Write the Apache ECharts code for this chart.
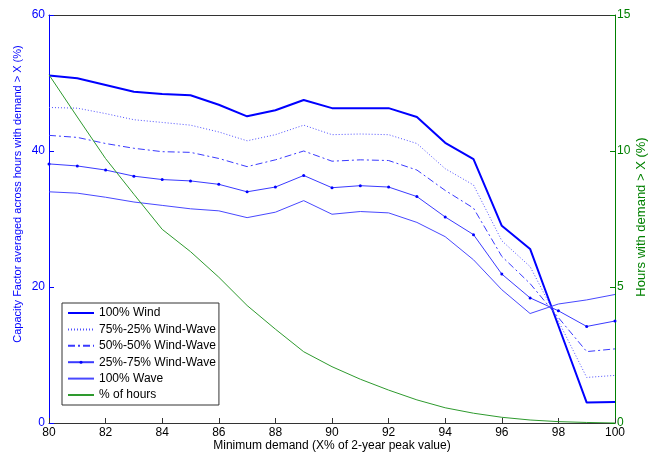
<!DOCTYPE html>
<html>
<head>
<meta charset="utf-8">
<script src="https://cdn.jsdelivr.net/npm/echarts@6/dist/echarts.min.js"></script>
<style>
html,body{margin:0;padding:0;background:#fff;}
#chart{width:663px;height:455px;}
</style>
</head>
<body>
<div id="chart"></div>
<script>
// ---- data ----
const demandX = [80,81,82,83,84,85,86,87,88,89,90,91,92,93,94,95,96,97,98,99,100];
const wind100   = [51.1,50.7,49.7,48.7,48.4,48.2,46.8,45.1,46.0,47.5,46.3,46.3,46.3,45.0,41.2,38.8,29.0,25.6,14.3,3.0,3.1];
const wind75    = [46.4,46.3,45.5,44.6,44.2,43.8,42.8,41.5,42.4,43.8,42.4,42.5,42.4,41.1,37.4,35.0,26.8,23.0,15.0,6.7,7.0];
const wind50    = [42.3,42.0,41.1,40.4,39.9,39.8,38.9,37.7,38.7,40.0,38.5,38.7,38.6,37.2,34.2,31.6,24.5,20.5,15.5,10.5,10.9];
const wind25    = [38.1,37.8,37.2,36.3,35.8,35.6,35.1,34.0,34.7,36.4,34.6,34.9,34.7,33.3,30.3,27.7,21.9,18.4,16.5,14.2,15.0];
const wave100   = [34.0,33.8,33.2,32.5,32.0,31.5,31.2,30.2,31.0,32.7,30.7,31.1,30.9,29.5,27.4,24.0,19.6,16.1,17.5,18.1,18.9];
const pctHours  = [12.8,11.25,9.72,8.41,7.12,6.3,5.36,4.32,3.45,2.62,2.07,1.61,1.21,0.85,0.56,0.36,0.21,0.11,0.05,0.02,0.0];
const xTicks = {min:80, max:100, interval:2};
const leftTicks = {min:0, max:60, interval:20};
const rightTicks = {min:0, max:15, interval:5};
const seriesNames = ['100% Wind','75%-25% Wind-Wave','50%-50% Wind-Wave','25%-75% Wind-Wave','100% Wave','% of hours'];

const pair = arr => demandX.map((x,i)=>[x,arr[i]]);
const FONT = 'Liberation Sans, Arial, sans-serif';
const BLUE = '#0000ff';
const GREEN = '#008000';

const legendData = seriesNames.map((n,i)=> i===3
  ? {name:n}
  : {name:n, itemStyle:{opacity:0}});

const chart = echarts.init(document.getElementById('chart'), null, {renderer:'canvas'});
chart.setOption({
  animation:false,
  backgroundColor:'#ffffff',
  textStyle:{fontFamily:FONT},
  grid:{left:49,right:48,top:15,bottom:32,containLabel:false},
  legend:{
    orient:'vertical', left:62, top:303,
    padding:[4,3,4,5], itemGap:4.4, itemWidth:26, itemHeight:3.75,
    borderColor:'#333', borderWidth:1, backgroundColor:'#fff',
    textStyle:{fontFamily:FONT,fontSize:12,color:'#000'},
    data:legendData
  },
  xAxis:[{
    type:'value', position:'bottom', min:xTicks.min, max:xTicks.max, interval:xTicks.interval,
    axisLine:{show:true,lineStyle:{color:'#333',width:1}},
    axisTick:{show:true,inside:true,length:5,lineStyle:{color:'#333'}},
    axisLabel:{color:'#000',fontSize:12,margin:4,fontFamily:FONT},
    splitLine:{show:false}
  },{
    type:'value', position:'top', min:xTicks.min, max:xTicks.max,
    axisLine:{show:true,onZero:false,lineStyle:{color:'#333',width:1}},
    axisTick:{show:false}, axisLabel:{show:false}, splitLine:{show:false}
  }],
  yAxis:[{
    type:'value', position:'left', min:leftTicks.min, max:leftTicks.max, interval:leftTicks.interval,
    axisLine:{show:true,lineStyle:{color:BLUE,width:1}},
    axisTick:{show:true,inside:true,length:5,lineStyle:{color:BLUE}},
    axisLabel:{color:BLUE,fontSize:12,margin:4,fontFamily:FONT},
    splitLine:{show:false}
  },{
    type:'value', position:'right', min:rightTicks.min, max:rightTicks.max, interval:rightTicks.interval,
    axisLine:{show:true,lineStyle:{color:GREEN,width:1}},
    axisTick:{show:true,inside:true,length:5,lineStyle:{color:GREEN}},
    axisLabel:{color:GREEN,fontSize:12,margin:2,fontFamily:FONT},
    splitLine:{show:false}
  }],
  series:[
    {name:seriesNames[0],type:'line',data:pair(wind100),symbol:'none',color:BLUE,
      lineStyle:{color:BLUE,width:2}},
    {name:seriesNames[1],type:'line',data:pair(wind75),symbol:'none',color:'#5050ff',
      lineStyle:{color:'#5050ff',width:1,type:[1,2]}},
    {name:seriesNames[2],type:'line',data:pair(wind50),symbol:'none',color:'#3a3aff',
      lineStyle:{color:'#3a3aff',width:1,type:[7,3,2,3]}},
    {name:seriesNames[3],type:'line',data:pair(wind25),symbol:'circle',symbolSize:3,showSymbol:true,color:BLUE,
      itemStyle:{color:BLUE},lineStyle:{color:'#3a3aff',width:1}},
    {name:seriesNames[4],type:'line',data:pair(wave100),symbol:'none',color:'#4848ff',
      lineStyle:{color:'#4848ff',width:1}},
    {name:seriesNames[5],type:'line',yAxisIndex:1,data:pair(pctHours),symbol:'none',color:'#2e9a2e',
      lineStyle:{color:'#2e9a2e',width:1}}
  ],
  graphic:[
    {type:'text', x:18, y:194, rotation:Math.PI/2,
      style:{text:'Capacity Factor averaged across hours with demand > X (%)', fill:BLUE,
        font:'11px '+FONT, textAlign:'center', textVerticalAlign:'middle'}},
    {type:'text', x:641, y:217, rotation:Math.PI/2,
      style:{text:'Hours with demand > X (%)', fill:GREEN,
        font:'13px '+FONT, textAlign:'center', textVerticalAlign:'middle'}},
    {type:'text', x:332, y:446,
      style:{text:'Minimum demand (X% of 2-year peak value)', fill:'#000',
        font:'12px '+FONT, textAlign:'center', textVerticalAlign:'middle'}}
  ]
});
</script>
</body>
</html>
